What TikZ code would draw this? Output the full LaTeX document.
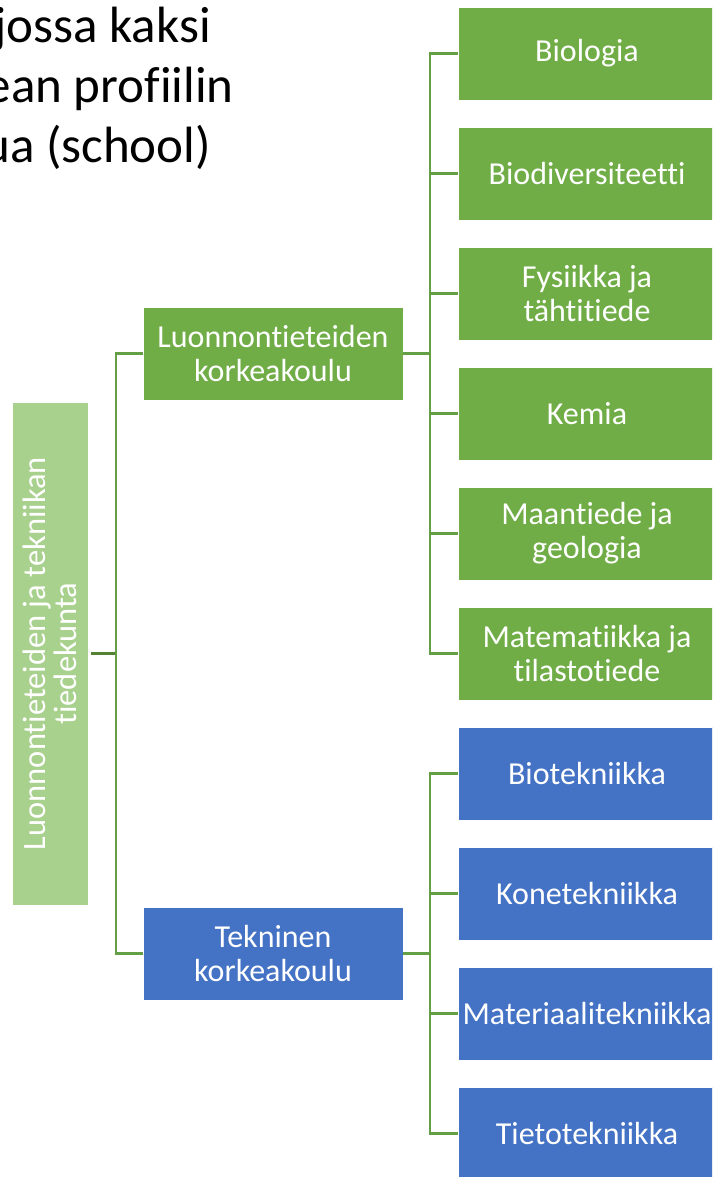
\documentclass[tikz,border=0pt]{standalone}
\usepackage{fontspec}
\setmainfont{Carlito}[Ligatures=NoCommon]
\definecolor{lgreen}{HTML}{A9D18E}
\definecolor{mgreen}{HTML}{70AD47}
\definecolor{mblue}{HTML}{4472C4}
\definecolor{lineg}{HTML}{649E45}
\definecolor{rootline}{HTML}{548235}
\begin{document}
\begin{tikzpicture}[x=1pt,y=-1pt,
  box/.style={draw=white, line width=0.8pt, inner sep=0pt, outer sep=0pt, text=white, align=center,
    font=\fontsize{32}{34}\selectfont},
  gbox/.style={box, fill=mgreen},
  bbox/.style={box, fill=mblue},
  mid/.style={gbox, minimum width=260pt, minimum height=93pt},
  leaf/.style={minimum width=258pt, minimum height=93pt},
  conn/.style={draw=lineg, line width=2.4pt},
  title/.style={anchor=base east, inner sep=0pt, font=\fontsize{51}{60}\selectfont, text=black}]
\useasboundingbox (0,0) rectangle (712,1177);
\clip (0,0) rectangle (712,1177);
\fill[white] (0,0) rectangle (712,1177);

% title fragments
\node[title] (t1) at (211,43) {jossa kaksi};
\node[title] (t2) at (234,103) {ean profiilin};
\node[title] (t3) at (211,163) {ua (school)};

% root
\node[box, fill=lgreen, minimum width=76pt, minimum height=503pt] (root) at (50,653.5) {};
\node[rotate=90, text=white, align=center, inner sep=0pt, font=\fontsize{32.5}{31}\selectfont] (roottext) at (50,653.5) {Luonnontieteiden ja tekniikan\\tiedekunta};

% level 2
\node[mid] (l1) at (273,353.5) {Luonnontieteiden\\korkeakoulu};
\node[mid, fill=mblue] (l2) at (273,953.5) {Tekninen\\korkeakoulu};

% leaves
\node[gbox, leaf] (a1) at (587,53.5) {Biologia};
\node[gbox, leaf] (a2) at (587,173.5) {Biodiversiteetti};
\node[gbox, leaf] (a3) at (587,293.5) {Fysiikka ja\\tähtitiede};
\node[gbox, leaf] (a4) at (587,413.5) {Kemia};
\node[gbox, leaf] (a5) at (587,533.5) {Maantiede ja\\geologia};
\node[gbox, leaf] (a6) at (587,653.5) {Matematiikka ja\\tilastotiede};
\node[bbox, leaf] (b1) at (587,773.5) {Biotekniikka};
\node[bbox, leaf] (b2) at (587,893.5) {Konetekniikka};
\node[bbox, leaf] (b3) at (587,1013.5) {Materiaalitekniikka};
\node[bbox, leaf] (b4) at (587,1133.5) {Tietotekniikka};

% connectors
\draw[conn, draw=rootline] ([xshift=3pt]root.east) -- ([xshift=28pt]root.east);
\draw[conn] ([xshift=28pt]root.east) |- (l1.west);
\draw[conn] ([xshift=28pt]root.east) |- (l2.west);
\foreach \n in {a1,a2,a3,a4,a5,a6}{
  \draw[conn] (l1.east) -- ([xshift=27pt]l1.east) |- (\n.west);
}
\foreach \n in {b1,b2,b3,b4}{
  \draw[conn] (l2.east) -- ([xshift=27pt]l2.east) |- (\n.west);
}
\end{tikzpicture}
\end{document}
